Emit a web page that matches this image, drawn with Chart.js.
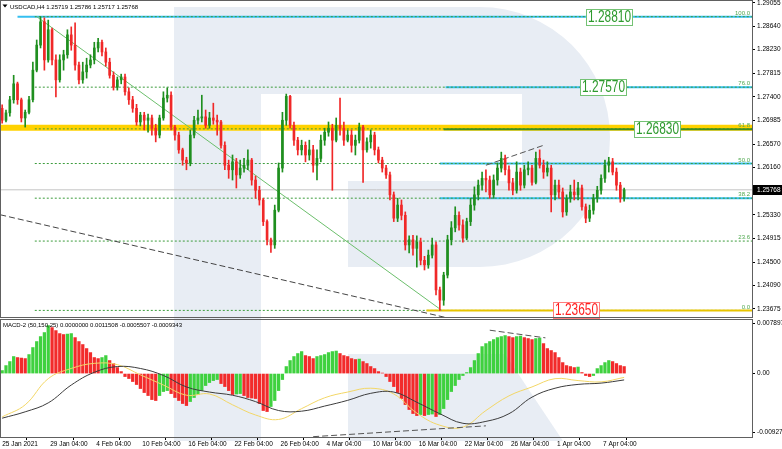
<!DOCTYPE html>
<html>
<head>
<meta charset="utf-8">
<title>USDCAD H4</title>
<script src="https://cdn.jsdelivr.net/npm/chart.js@4.4.1/dist/chart.umd.min.js"></script>
<style>
  html, body { margin: 0; padding: 0; background: #fff; }
  #wrap { position: relative; width: 782px; height: 449px; overflow: hidden; background: #fff; }
  canvas { position: absolute; left: 0; }
  #priceChart { top: 0; }
  #macdChart { top: 319px; }
</style>
</head>
<body>
<div id="wrap">
  <canvas id="priceChart" width="782" height="319" style="width:782px;height:319px"></canvas>
  <canvas id="macdChart" width="782" height="130" style="width:782px;height:130px"></canvas>
</div>
<script>
// time axis unit = one H4 slot since 25 Jan 2021 00:00 (weekends skipped)
const dateSlots = [0, 25, 49, 73, 97, 121, 145, 169, 193, 217, 241, 265, 289, 313]
const dateLabels = ['25 Jan 2021', '29 Jan 04:00', '4 Feb 04:00', '10 Feb 04:00', '16 Feb 04:00', '22 Feb 04:00',
  '26 Feb 04:00', '4 Mar 04:00', '10 Mar 04:00', '16 Mar 04:00', '22 Mar 04:00', '26 Mar 04:00', '1 Apr 04:00', '7 Apr 04:00']

const priceTicks = [1.29055, 1.28640, 1.28230, 1.27815, 1.27400, 1.26985, 1.26570, 1.26160, 1.25745,
  1.25330, 1.24915, 1.24500, 1.24090, 1.23675]
const macdTicks = [0.007897, 0, -0.009272]
const macdTickLabels = ['0.007897', '0.00', '-0.009272']

// price bars, one every 8 hours (= 2 H4 slots)
const openP = [
  1.2720, 1.2699, 1.2712, 1.2735, 1.2763, 1.2735, 1.2703, 1.2713, 1.2735, 1.2787,
  1.2831, 1.2872, 1.2805, 1.2858, 1.2805, 1.2770, 1.2805, 1.2814, 1.2849, 1.2831,
  1.2796, 1.2770, 1.2784, 1.2796, 1.2805, 1.2826, 1.2836, 1.2819, 1.2801, 1.2778,
  1.2757, 1.2770, 1.2775, 1.2749, 1.2735, 1.2720, 1.2696, 1.2708, 1.2699, 1.2703,
  1.2685, 1.2673, 1.2703, 1.2738, 1.2743, 1.2687, 1.2673, 1.2647, 1.2629, 1.2624,
  1.2673, 1.2699, 1.2703, 1.2705, 1.2690, 1.2703, 1.2699, 1.2696, 1.2655, 1.2620,
  1.2612, 1.2626, 1.2603, 1.2615, 1.2620, 1.2629, 1.2594, 1.2576, 1.2559, 1.2521,
  1.2489, 1.2480, 1.2541, 1.2615, 1.2699, 1.2741, 1.2690, 1.2664, 1.2647, 1.2655,
  1.2638, 1.2647, 1.2620, 1.2632, 1.2664, 1.2678, 1.2685, 1.2664, 1.2690, 1.2685,
  1.2664, 1.2673, 1.2655, 1.2664, 1.2687, 1.2647, 1.2661, 1.2673, 1.2647, 1.2629,
  1.2615, 1.2603, 1.2568, 1.2527, 1.2550, 1.2532, 1.2480, 1.2489, 1.2474, 1.2485,
  1.2453, 1.2445, 1.2462, 1.2480, 1.2401, 1.2383, 1.2427, 1.2489, 1.2510, 1.2532,
  1.2515, 1.2492, 1.2521, 1.2550, 1.2568, 1.2585, 1.2597, 1.2594, 1.2568, 1.2594,
  1.2615, 1.2632, 1.2612, 1.2589, 1.2576, 1.2608, 1.2585, 1.2612, 1.2615, 1.2590,
  1.2632, 1.2620, 1.2608, 1.2615, 1.2568, 1.2585, 1.2573, 1.2538, 1.2562, 1.2573,
  1.2568, 1.2580, 1.2547, 1.2527, 1.2541, 1.2562, 1.2576, 1.2597, 1.2620, 1.2626,
  1.2608, 1.2585, 1.2562
]
const highP = [
  1.2726, 1.2717, 1.2741, 1.2778, 1.2766, 1.2738, 1.2717, 1.2741, 1.2801, 1.2840,
  1.2881, 1.2879, 1.2875, 1.2861, 1.2814, 1.2814, 1.2822, 1.2858, 1.2863, 1.2870,
  1.2801, 1.2801, 1.2808, 1.2814, 1.2836, 1.2843, 1.2840, 1.2826, 1.2808, 1.2784,
  1.2775, 1.2780, 1.2780, 1.2756, 1.2741, 1.2727, 1.2713, 1.2713, 1.2710, 1.2708,
  1.2692, 1.2708, 1.2749, 1.2756, 1.2749, 1.2690, 1.2678, 1.2650, 1.2634, 1.2682,
  1.2706, 1.2717, 1.2743, 1.2717, 1.2713, 1.2729, 1.2708, 1.2699, 1.2661, 1.2629,
  1.2638, 1.2632, 1.2629, 1.2632, 1.2647, 1.2632, 1.2601, 1.2583, 1.2562, 1.2524,
  1.2492, 1.2550, 1.2624, 1.2713, 1.2745, 1.2743, 1.2696, 1.2669, 1.2664, 1.2661,
  1.2664, 1.2655, 1.2647, 1.2673, 1.2685, 1.2696, 1.2692, 1.2703, 1.2738, 1.2696,
  1.2682, 1.2682, 1.2673, 1.2694, 1.2690, 1.2668, 1.2682, 1.2678, 1.2652, 1.2634,
  1.2620, 1.2608, 1.2573, 1.2562, 1.2559, 1.2538, 1.2496, 1.2497, 1.2496, 1.2492,
  1.2460, 1.2471, 1.2492, 1.2485, 1.2406, 1.2432, 1.2497, 1.2521, 1.2547, 1.2538,
  1.2524, 1.2527, 1.2562, 1.2582, 1.2594, 1.2608, 1.2612, 1.2601, 1.2603, 1.2624,
  1.2643, 1.2638, 1.2619, 1.2597, 1.2626, 1.2615, 1.2620, 1.2626, 1.2620, 1.2643,
  1.2647, 1.2629, 1.2626, 1.2620, 1.2594, 1.2594, 1.2580, 1.2568, 1.2585, 1.2594,
  1.2590, 1.2585, 1.2552, 1.2550, 1.2569, 1.2583, 1.2603, 1.2629, 1.2634, 1.2632,
  1.2615, 1.2590, 1.2580
]
const lowP = [
  1.2694, 1.2696, 1.2706, 1.2729, 1.2727, 1.2696, 1.2687, 1.2710, 1.2731, 1.2784,
  1.2826, 1.2787, 1.2801, 1.2796, 1.2740, 1.2766, 1.2787, 1.2808, 1.2822, 1.2787,
  1.2763, 1.2764, 1.2773, 1.2791, 1.2798, 1.2819, 1.2812, 1.2794, 1.2773, 1.2752,
  1.2752, 1.2763, 1.2743, 1.2727, 1.2713, 1.2690, 1.2689, 1.2682, 1.2678, 1.2673,
  1.2661, 1.2668, 1.2699, 1.2731, 1.2682, 1.2664, 1.2641, 1.2620, 1.2612, 1.2619,
  1.2668, 1.2692, 1.2696, 1.2685, 1.2685, 1.2692, 1.2673, 1.2650, 1.2612, 1.2597,
  1.2594, 1.2580, 1.2597, 1.2608, 1.2612, 1.2585, 1.2562, 1.2550, 1.2514, 1.2480,
  1.2467, 1.2474, 1.2538, 1.2608, 1.2690, 1.2685, 1.2655, 1.2638, 1.2638, 1.2626,
  1.2629, 1.2608, 1.2594, 1.2626, 1.2655, 1.2671, 1.2576, 1.2661, 1.2673, 1.2655,
  1.2661, 1.2643, 1.2638, 1.2659, 1.2590, 1.2643, 1.2650, 1.2638, 1.2624, 1.2608,
  1.2597, 1.2559, 1.2521, 1.2521, 1.2524, 1.2471, 1.2466, 1.2462, 1.2441, 1.2445,
  1.2436, 1.2439, 1.2457, 1.2392, 1.2365, 1.2374, 1.2422, 1.2480, 1.2503, 1.2506,
  1.2485, 1.2489, 1.2514, 1.2541, 1.2559, 1.2576, 1.2573, 1.2562, 1.2562, 1.2585,
  1.2608, 1.2603, 1.2576, 1.2568, 1.2571, 1.2576, 1.2580, 1.2603, 1.2585, 1.2587,
  1.2615, 1.2597, 1.2601, 1.2538, 1.2559, 1.2562, 1.2529, 1.2532, 1.2555, 1.2559,
  1.2559, 1.2541, 1.2519, 1.2521, 1.2534, 1.2555, 1.2569, 1.2590, 1.2608, 1.2603,
  1.2576, 1.2555, 1.2557
]
const closeP = [
  1.2699, 1.2712, 1.2735, 1.2763, 1.2735, 1.2703, 1.2713, 1.2735, 1.2787, 1.2831,
  1.2872, 1.2805, 1.2858, 1.2805, 1.2770, 1.2805, 1.2814, 1.2849, 1.2831, 1.2796,
  1.2770, 1.2784, 1.2796, 1.2805, 1.2826, 1.2836, 1.2819, 1.2801, 1.2778, 1.2757,
  1.2770, 1.2775, 1.2749, 1.2735, 1.2720, 1.2696, 1.2708, 1.2699, 1.2703, 1.2685,
  1.2673, 1.2703, 1.2738, 1.2743, 1.2687, 1.2673, 1.2647, 1.2629, 1.2624, 1.2673,
  1.2699, 1.2703, 1.2705, 1.2690, 1.2703, 1.2699, 1.2696, 1.2655, 1.2620, 1.2612,
  1.2626, 1.2603, 1.2615, 1.2620, 1.2629, 1.2594, 1.2576, 1.2559, 1.2521, 1.2489,
  1.2480, 1.2541, 1.2615, 1.2699, 1.2741, 1.2690, 1.2664, 1.2647, 1.2655, 1.2638,
  1.2647, 1.2620, 1.2632, 1.2664, 1.2678, 1.2685, 1.2664, 1.2690, 1.2685, 1.2664,
  1.2673, 1.2655, 1.2664, 1.2687, 1.2647, 1.2661, 1.2673, 1.2647, 1.2629, 1.2615,
  1.2603, 1.2568, 1.2527, 1.2550, 1.2532, 1.2480, 1.2489, 1.2474, 1.2485, 1.2453,
  1.2445, 1.2462, 1.2480, 1.2401, 1.2383, 1.2427, 1.2489, 1.2510, 1.2532, 1.2515,
  1.2492, 1.2521, 1.2550, 1.2568, 1.2585, 1.2597, 1.2594, 1.2568, 1.2594, 1.2615,
  1.2632, 1.2612, 1.2589, 1.2576, 1.2608, 1.2585, 1.2612, 1.2615, 1.2590, 1.2632,
  1.2620, 1.2608, 1.2615, 1.2568, 1.2585, 1.2573, 1.2538, 1.2562, 1.2573, 1.2568,
  1.2580, 1.2547, 1.2527, 1.2541, 1.2562, 1.2576, 1.2597, 1.2620, 1.2626, 1.2608,
  1.2585, 1.2562, 1.25768
]

// MACD histogram, same 8-hour bars
const macdHist = [
  0.00047, 0.00125, 0.00188, 0.00267, 0.00251, 0.00243, 0.00235, 0.00298, 0.00408, 0.00502,
  0.0058, 0.00643, 0.00753, 0.00721, 0.00674, 0.00627, 0.00612, 0.00619, 0.00627, 0.00564,
  0.00502, 0.00455, 0.00392, 0.00329, 0.00251, 0.00235, 0.00251, 0.00282, 0.00204, 0.00157,
  0.00094, 0.00031, -0.00047, -0.00078, -0.00125, -0.00172, -0.00235, -0.00298, -0.00345, -0.00408,
  -0.00423, -0.00345, -0.00282, -0.00267, -0.00314, -0.00376, -0.00423, -0.0047, -0.00502, -0.00439,
  -0.00376, -0.00329, -0.00267, -0.00188, -0.00141, -0.0011, -0.00094, -0.00157, -0.00204, -0.00267,
  -0.00329, -0.00321, -0.00314, -0.00345, -0.00376, -0.00384, -0.00392, -0.0047, -0.0058, -0.00596,
  -0.00517, -0.00423, -0.00267, -0.00094, 0.0011, 0.00204, 0.00267, 0.00314, 0.00345, 0.00282,
  0.00267, 0.00235, 0.00267, 0.00282, 0.00298, 0.00329, 0.00345, 0.00353, 0.00314, 0.00282,
  0.00267, 0.00235, 0.0022, 0.00227, 0.00188, 0.00157, 0.0011, 0.00078, 0.00031, 0.00008,
  -0.00047, -0.00125, -0.00204, -0.00298, -0.00392, -0.00486, -0.00564, -0.00627, -0.00659, -0.00643,
  -0.00659, -0.00643, -0.00635, -0.00674, -0.00643, -0.00549, -0.00408, -0.00282, -0.00188, -0.00094,
  -0.00031, 0.00016, 0.00094, 0.00204, 0.00314, 0.00423, 0.0047, 0.00502, 0.00533, 0.00564,
  0.0058, 0.00596, 0.0058, 0.00564, 0.0058, 0.00588, 0.00564, 0.00549, 0.00533, 0.00549,
  0.00557, 0.0047, 0.00392, 0.00361, 0.00329, 0.00251, 0.00172, 0.00125, 0.0011, 0.00094,
  0.00102, 0.00016, -0.00031, -0.00047, -0.00031, 0.00078, 0.00125, 0.00172, 0.00204, 0.00188,
  0.00157, 0.00125, 0.0011
]

// MACD lines read every 12 H4 slots
const lineSlots = [0, 12, 24, 36, 48, 60, 72, 84, 96, 108, 120, 132, 144, 156, 168, 180, 192, 204,
  216, 228, 240, 252, 264, 276, 288, 300, 312, 324]
const macdSignal = [-0.0068, -0.0049, -0.0008, 0.0008, 0.0016, 0.0014, -0.0002, -0.0018, -0.0034, -0.0032,
  -0.0049, -0.0065, -0.0072, -0.0055, -0.0038, -0.0029, -0.0023, -0.0032, -0.0062, -0.0081,
  -0.0084, -0.0058, -0.0035, -0.0021, -0.0008, -0.0011, -0.0013, -0.0006]
const macdMain = [-0.0070, -0.0060, -0.0046, -0.0018, 0.0002, 0.0011, 0.0008, -0.0003, -0.0021, -0.0029,
  -0.0034, -0.0044, -0.0058, -0.0059, -0.0051, -0.0042, -0.0031, -0.0029, -0.0045, -0.0063,
  -0.0078, -0.0075, -0.0063, -0.0037, -0.0023, -0.0017, -0.0015, -0.0010]

// levels and drawn lines
const fibHigh = 1.2881
const fibLow = 1.2365
const fibRatios = [100.0, 76.0, 61.8, 50.0, 38.2, 23.6, 0.0]
const cyanLevels = [1.2881, 1.2757, 1.2623, 1.2562]
const cyanStart = [8, 231, 228, 228]
const resistBand = 1.2686
const targetPrices = [1.2881, 1.2757, 1.2683, 1.2365]
const targetSlots = [304, 301, 329, 287]
const lastPrice = 1.25768

const trendDown = [[18, 1.2881], [229, 1.2365]]
const channelLow = [[-1, 1.2533], [233, 1.2351]]
const channelTop = [[252, 1.2620], [282, 1.2655]]
const macdDivLow = [[162, -0.0099], [252, -0.0082]]
const macdDivTop = [[254, 0.0068], [283, 0.0056]]

const X_MIN = -0.6
const X_MAX = 390.6
const FONT = '"Liberation Sans", Arial, sans-serif'
const upColor = '#1f8f1f'
const downColor = '#f02828'

Chart.defaults.font.family = FONT
Chart.defaults.font.size = 6.5
Chart.defaults.color = '#000'

const slot = i => i * 2
const fibPrice = r => fibLow + (fibHigh - fibLow) * r / 100

function hline(y, x0, color, width, dash, order) {
  return {
    type: 'line',
    data: [{ x: x0, y: y }, { x: X_MAX, y: y }],
    borderColor: color,
    borderWidth: width,
    borderDash: dash || [],
    pointRadius: 0,
    fill: false,
    order: order
  }
}

function segment(pts, color, width, dash, order) {
  return {
    type: 'line',
    data: pts.map(p => ({ x: p[0], y: p[1] })),
    borderColor: color,
    borderWidth: width,
    borderDash: dash || [],
    pointRadius: 0,
    fill: false,
    order: order
  }
}

// light "R" logo behind both panes
const watermark = {
  id: 'watermark',
  beforeDraw(chart, args, opts) {
    const ctx = chart.ctx
    ctx.save()
    ctx.translate(0, -opts.top)
    ctx.fillStyle = '#e8edf4'
    ctx.fillRect(174, 7, 87, 434)
    ctx.beginPath()
    ctx.moveTo(261, 7)
    ctx.lineTo(480, 7)
    ctx.arc(480, 137, 130, -Math.PI / 2, Math.PI / 2)
    ctx.lineTo(261, 267)
    ctx.closePath()
    ctx.fill()
    ctx.fillStyle = '#fff'
    ctx.fillRect(261, 94, 261, 87)
    ctx.fillRect(261, 181, 87, 86)
    ctx.fillStyle = '#e8edf4'
    ctx.beginPath()
    ctx.moveTo(348, 354)
    ctx.lineTo(505, 354)
    ctx.lineTo(563, 441)
    ctx.lineTo(348, 441)
    ctx.closePath()
    ctx.fill()
    ctx.restore()
  }
}

const frame = {
  id: 'frame',
  afterDraw(chart) {
    const { ctx, chartArea: a } = chart
    ctx.save()
    ctx.strokeStyle = '#606060'
    ctx.lineWidth = 1
    ctx.strokeRect(a.left - 0.5, a.top - 0.5, a.right - a.left + 1, a.bottom - a.top + 1)
    ctx.restore()
  }
}

const priceOverlay = {
  id: 'priceOverlay',
  afterDatasetsDraw(chart) {
    const { ctx, chartArea: a, scales: { x, y } } = chart
    ctx.save()
    // fibo ratios at the right edge
    ctx.font = '6px ' + FONT
    ctx.fillStyle = '#4fa84f'
    ctx.textAlign = 'right'
    ctx.textBaseline = 'bottom'
    fibRatios.forEach(r => {
      ctx.fillText(r.toFixed(1), a.right - 2, y.getPixelForValue(fibPrice(r)) - 0.5)
    })
    // target boxes
    targetPrices.forEach((p, i) => {
      const text = p.toFixed(5)
      const red = p < lastPrice
      const px = Math.round(x.getPixelForValue(targetSlots[i]))
      const py = Math.round(y.getPixelForValue(p))
      ctx.fillStyle = '#fff'
      ctx.fillRect(px, py - 8, 47, 17)
      ctx.strokeStyle = red ? '#ff7d7d' : '#74c274'
      ctx.lineWidth = 1
      ctx.strokeRect(px + 0.5, py - 7.5, 46, 16)
      ctx.font = '16px ' + FONT
      const w = ctx.measureText(text).width
      ctx.save()
      ctx.translate(px + 2, py + 1)
      ctx.scale(43 / w, 1)
      ctx.fillStyle = red ? '#ff1e1e' : '#2e9a2e'
      ctx.textAlign = 'left'
      ctx.textBaseline = 'middle'
      ctx.fillText(text, 0, 0)
      ctx.restore()
    })
    ctx.restore()
  },
  afterDraw(chart) {
    const { ctx, chartArea: a, scales: { y } } = chart
    ctx.save()
    const py = Math.round(y.getPixelForValue(lastPrice))
    ctx.fillStyle = '#000'
    ctx.fillRect(a.right + 1, py - 5, 30, 10)
    ctx.fillStyle = '#fff'
    ctx.font = '6.5px ' + FONT
    ctx.textBaseline = 'middle'
    ctx.fillText(lastPrice.toFixed(5), a.right + 5, py + 0.5)
    // header
    ctx.fillStyle = '#000'
    ctx.beginPath()
    ctx.moveTo(2.5, 4.5)
    ctx.lineTo(7.5, 4.5)
    ctx.lineTo(5, 7.5)
    ctx.closePath()
    ctx.fill()
    ctx.font = '6px ' + FONT
    ctx.textBaseline = 'alphabetic'
    ctx.fillText('USDCAD,H4 1.25719 1.25786 1.25717 1.25768', 10, 8.5)
    ctx.restore()
  }
}

const macdOverlay = {
  id: 'macdOverlay',
  afterDraw(chart) {
    const ctx = chart.ctx
    ctx.save()
    ctx.fillStyle = '#000'
    ctx.font = '6px ' + FONT
    ctx.fillText('MACD-2 (50,150,25) 0.0000000 0.0011508 -0.0005507 -0.0009343', 3, 8)
    ctx.restore()
  }
}

// ---- price pane ----
const wickData = highP.map((h, i) => ({ x: slot(i), y: [lowP[i], h] }))
const bodyData = openP.map((o, i) => ({ x: slot(i), y: [o, closeP[i]] }))
const candleColors = closeP.map((c, i) => (c >= openP[i] ? upColor : downColor))

const priceDatasets = [
  hline(resistBand, X_MIN, '#ffd200', 6, [], 12),
  ...cyanLevels.map((lv, i) => hline(lv, cyanStart[i], '#35bff0', 2, [], 11)),
  ...fibRatios.map(r => hline(fibPrice(r), 17, '#3c9c3c', 1, [2, 2], 10)),
  hline(1.2683, 230, '#3f8f1f', 2, [], 9),
  hline(fibLow, 221, '#e8c400', 2, [], 9),
  hline(lastPrice, X_MIN, '#c4c4c4', 1, [], 8),
  segment(trendDown, '#6cbf6c', 1, [], 6),
  segment(channelLow, '#444', 1, [6, 3], 6),
  segment(channelTop, '#555', 1, [6, 3], 6),
  {
    type: 'bar', data: wickData, backgroundColor: candleColors,
    barThickness: 1, grouped: false, order: 2
  },
  {
    type: 'bar', data: bodyData, backgroundColor: candleColors,
    barThickness: 2, grouped: false, minBarLength: 1, order: 1
  }
]

const priceChart = new Chart(document.getElementById('priceChart').getContext('2d'), {
  type: 'bar',
  data: { datasets: priceDatasets },
  options: {
    responsive: false,
    animation: false,
    events: [],
    layout: { padding: { top: 1, left: 1, right: 0, bottom: 2 } },
    scales: {
      x: { type: 'linear', display: false, min: X_MIN, max: X_MAX, offset: false },
      y: {
        position: 'right',
        min: 1.23534,
        max: 1.29085,
        afterBuildTicks: s => { s.ticks = priceTicks.map(v => ({ value: v })) },
        afterFit: s => { s.width = 30; s.paddingTop = 0; s.paddingBottom = 0 },
        ticks: { autoSkip: false, padding: 2, crossAlign: 'near', callback: v => v.toFixed(5) },
        grid: { drawOnChartArea: false, tickLength: 3, color: '#000' },
        border: { color: '#000' }
      }
    },
    plugins: { legend: { display: false }, tooltip: { enabled: false }, watermark: { top: 0 } }
  },
  plugins: [watermark, priceOverlay, frame]
})

// ---- MACD pane ----
const histColors = macdHist.map((v, i) => (i === 0 || v >= macdHist[i - 1] ? '#3fd13f' : '#f22b2b'))

const macdChart = new Chart(document.getElementById('macdChart').getContext('2d'), {
  type: 'bar',
  data: {
    datasets: [
      {
        type: 'bar', data: macdHist.map((v, i) => ({ x: slot(i), y: v })),
        backgroundColor: histColors, barThickness: 2.6, grouped: false, order: 4
      },
      {
        type: 'line', data: lineSlots.map((s, i) => ({ x: s, y: macdSignal[i] })),
        borderColor: '#f3d766', borderWidth: 1, pointRadius: 0, tension: 0.4, order: 3
      },
      {
        type: 'line', data: lineSlots.map((s, i) => ({ x: s, y: macdMain[i] })),
        borderColor: '#3c3c3c', borderWidth: 1, pointRadius: 0, tension: 0.4, order: 2
      },
      segment(macdDivLow, '#555', 1, [6, 3], 1),
      segment(macdDivTop, '#555', 1, [6, 3], 1)
    ]
  },
  options: {
    responsive: false,
    animation: false,
    events: [],
    layout: { padding: { top: 1, left: 1, right: 0, bottom: 0 } },
    scales: {
      x: {
        type: 'linear', min: X_MIN, max: X_MAX, offset: false,
        afterBuildTicks: s => { s.ticks = dateSlots.map(v => ({ value: v })) },
        afterFit: s => { s.height = 12; s.paddingLeft = 0; s.paddingRight = 0 },
        ticks: { autoSkip: false, maxRotation: 0, minRotation: 0, align: 'start', padding: 0,
          callback: (v, i) => dateLabels[i] },
        grid: { drawOnChartArea: false, tickLength: 3, color: '#000' },
        border: { color: '#000' }
      },
      y: {
        position: 'right',
        min: -0.00995,
        max: 0.0084,
        afterBuildTicks: s => { s.ticks = macdTicks.map(v => ({ value: v })) },
        afterFit: s => { s.width = 30; s.paddingTop = 0; s.paddingBottom = 0 },
        ticks: { autoSkip: false, padding: 2, crossAlign: 'near',
          callback: (v, i) => macdTickLabels[i] },
        grid: { drawOnChartArea: false, tickLength: 3, color: '#000' },
        border: { color: '#000' }
      }
    },
    plugins: { legend: { display: false }, tooltip: { enabled: false }, watermark: { top: 319 } }
  },
  plugins: [watermark, macdOverlay, frame]
})
</script>
</body>
</html>
